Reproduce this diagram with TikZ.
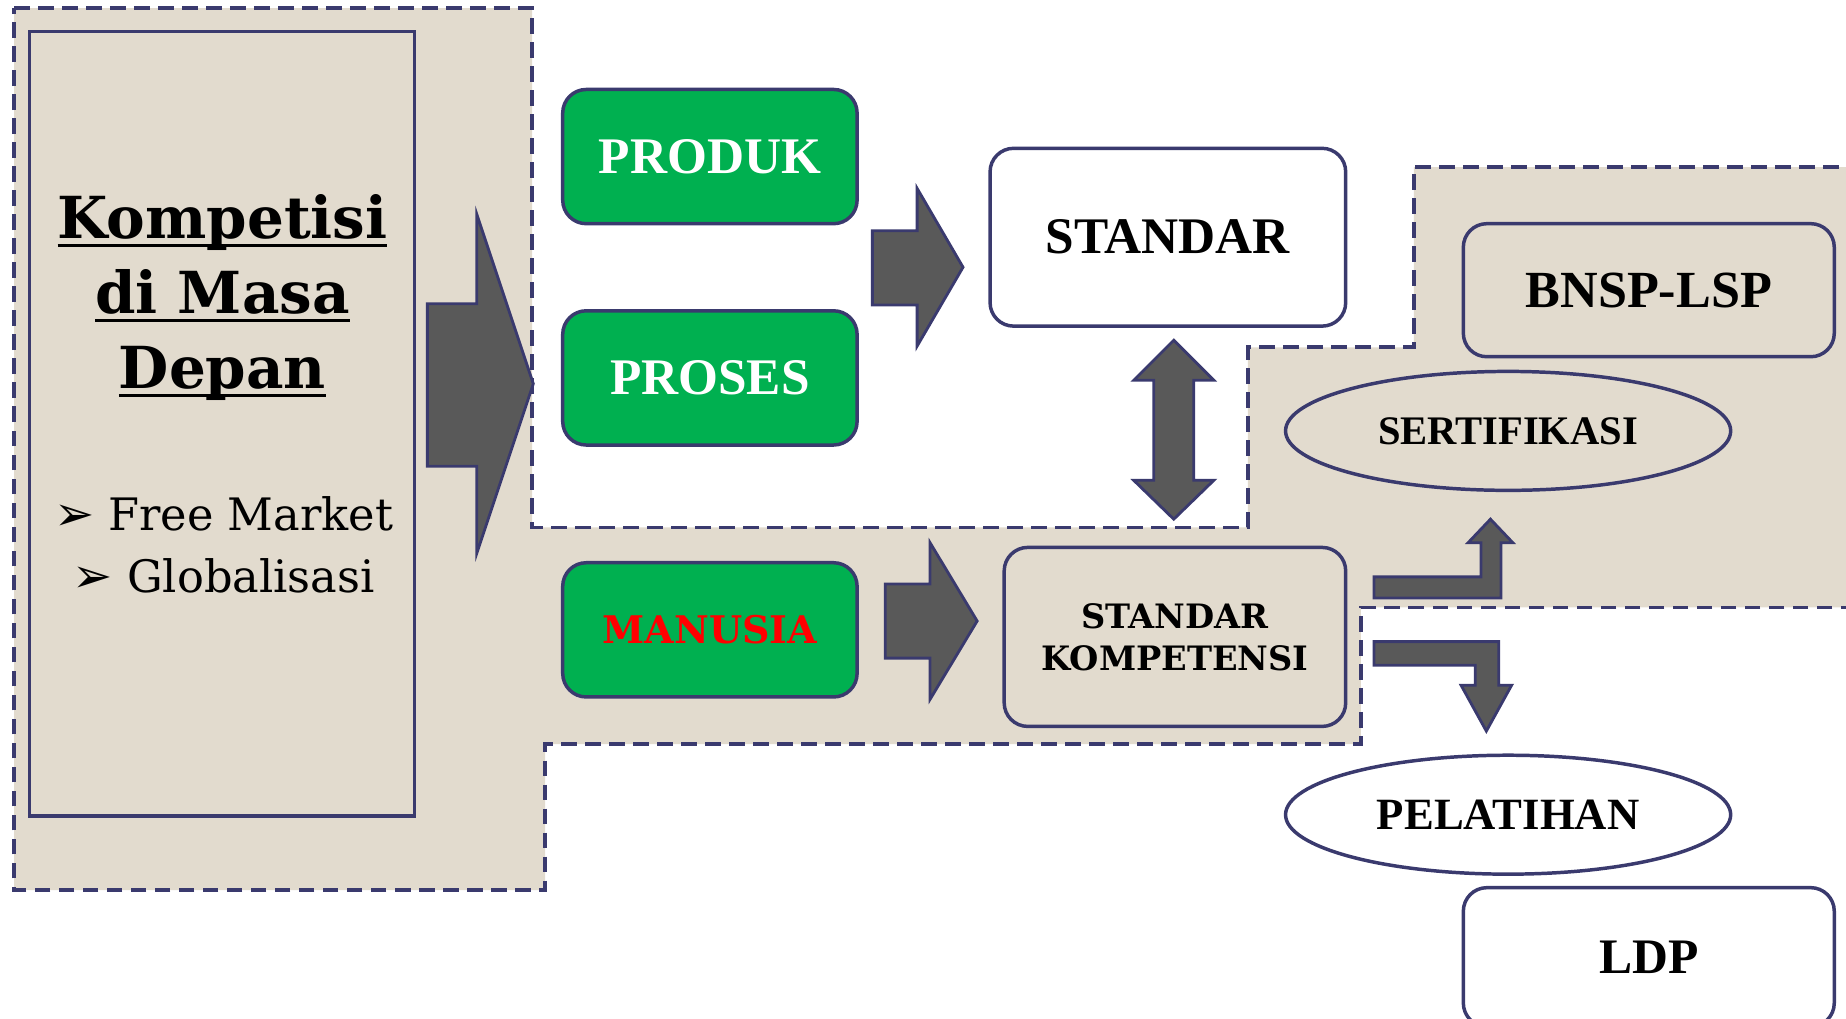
\documentclass[tikz,border=0pt]{standalone}
\usepackage{fontspec}
\setmainfont{Liberation Serif}
\newfontfamily\wideserif{DejaVu Serif}
\newfontfamily\dingbats{DejaVu Sans}
\usetikzlibrary{shapes.geometric}

\definecolor{navy}{RGB}{58,58,110}
\definecolor{paper}{RGB}{226,219,206}
\definecolor{arrowgray}{RGB}{89,89,89}
\definecolor{leafgreen}{RGB}{0,176,80}

\newcommand{\ulline}[1]{\setbox0\hbox{#1}\rlap{\rule[-5pt]{\wd0}{1.9pt}}\box0}
\newcommand{\bulletarrow}{{\dingbats\fontsize{29}{30}\selectfont ➢}}

\tikzset{
  rbox/.style={draw=navy, line width=2.1pt, rounded corners=0.5cm, align=center, inner sep=0pt},
  greenbox/.style={rbox, fill=leafgreen, minimum width=6.25cm, minimum height=2.85cm, font=\fontsize{31}{36}\selectfont\bfseries},
  oval/.style={ellipse, draw=navy, line width=2.1pt, inner sep=0pt, minimum width=9.45cm, minimum height=2.525cm},
  blockarrow/.style={draw=navy, line width=1.7pt, fill=arrowgray},
  zone/.style={draw=navy, line width=2.2pt, dash pattern=on 9.5pt off 5pt, fill=paper},
}

\begin{document}
\begin{tikzpicture}[x=0.025cm, y=-0.025cm]
\useasboundingbox (0,0) rectangle (1568,865);
\clip (0,0) rectangle (1568,865);

% Shaded zone
\draw[zone] (12,7) -- (452,7) -- (452,448) -- (1060,448) -- (1060,295) -- (1201,295) -- (1201,142)
  -- (1600,142) -- (1600,516) -- (1156,516) -- (1156,632) -- (463,632) -- (463,756) -- (12,756) -- cycle;

% Left panel
\node[rbox, sharp corners, minimum width=8.175cm, minimum height=16.65cm] (panel) at (188.5,360) {};
\node[font=\wideserif\bfseries\fontsize{35}{45.4}\selectfont, align=center] (title) at (189,253)
  {\ulline{Kompetisi}\\ \ulline{di Masa}\\ \ulline{Depan}};
\node[font=\wideserif\fontsize{27}{37.6}\selectfont, align=center] (trends) at (190,463)
  {\bulletarrow\ Free Market\\ \bulletarrow\ Globalisasi};

% Big arrow out of the panel
\draw[blockarrow] (363,258) -- (405,258) -- (405,182) -- (453,326) -- (405,470) -- (405,396) -- (363,396) -- cycle;

% Three areas
\node[greenbox, text=white] (produk) at (603,133) {PRODUK};
\node[greenbox, text=white] (proses) at (603,321) {PROSES};
\node[greenbox, text=red, font=\wideserif\bfseries\fontsize{23}{28}\selectfont] (manusia) at (603,535) {MANUSIA};

% Standards
\node[rbox, fill=white, minimum width=7.55cm, minimum height=3.775cm, font=\fontsize{31}{36}\selectfont\bfseries] (standar) at (992,201.5) {STANDAR};
\node[rbox, minimum width=7.25cm, minimum height=3.8cm, font=\wideserif\bfseries\fontsize{20.3}{25.5}\selectfont] (stdkomp) at (998,541) {STANDAR\\KOMPETENSI};

\draw[blockarrow] (741,196) -- (779,196) -- (779,160) -- (818,227) -- (779,294) -- (779,259) -- (741,259) -- cycle;
\draw[blockarrow] (752,496) -- (790,496) -- (790,461) -- (830,527.5) -- (790,594) -- (790,559) -- (752,559) -- cycle;
\draw[blockarrow] (997,289) -- (1031,323) -- (1014,323) -- (1014,408) -- (1031,408) -- (997,441) -- (963,408)
  -- (980,408) -- (980,323) -- (963,323) -- cycle;

% Right side
\node[rbox, minimum width=7.875cm, minimum height=2.825cm, font=\fontsize{31.5}{36}\selectfont\bfseries] (bnsp) at (1400.5,246.5) {BNSP-LSP};
\node[oval, font=\fontsize{24.5}{28}\selectfont\bfseries] (sertifikasi) at (1281,366) {SERTIFIKASI};
\node[oval, fill=white, font=\fontsize{27}{32}\selectfont\bfseries] (pelatihan) at (1281,692) {PELATIHAN};
\node[rbox, fill=white, minimum width=7.875cm, minimum height=2.95cm, font=\fontsize{30}{36}\selectfont\bfseries] (ldp) at (1400.5,813) {LDP};

\draw[blockarrow] (1167,490) -- (1258,490) -- (1258,461) -- (1247,461) -- (1266,441) -- (1285,461) -- (1275,461)
  -- (1275,508) -- (1167,508) -- cycle;
\draw[blockarrow] (1167,545) -- (1273,545) -- (1273,582) -- (1284,582) -- (1262.5,621) -- (1241,582) -- (1253,582)
  -- (1253,565) -- (1167,565) -- cycle;
\end{tikzpicture}
\end{document}
